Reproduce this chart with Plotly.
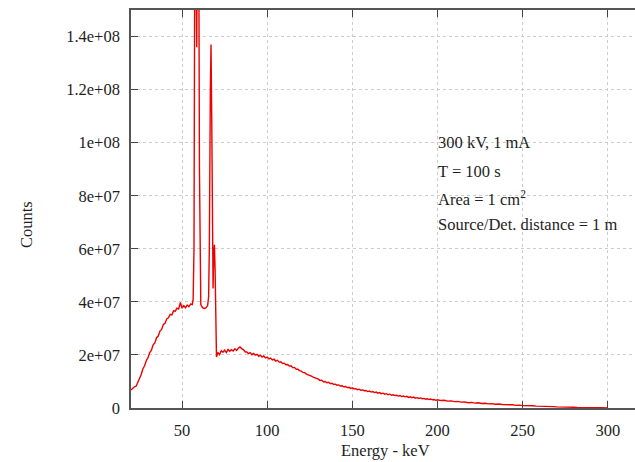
import plotly.graph_objects as go

# Energy (keV) and counts, in segments
energy_rise = [20, 21, 22, 23, 24, 25, 26, 27, 28, 29, 30, 31, 32, 33, 34, 35, 36, 37, 38, 39,
               40, 41, 42, 43, 44, 45, 46, 47, 48, 49, 50, 51, 52, 53, 54, 55, 56, 56.5]
counts_rise = [6.8e6, 7.5e6, 8.0e6, 8.2e6, 9.6e6, 11.2e6, 12.6e6, 14.8e6, 15.9e6, 17.9e6,
               19.0e6, 20.9e6, 21.8e6, 23.8e6, 24.5e6, 26.5e6, 27.1e6, 29.0e6, 29.6e6, 31.5e6,
               31.9e6, 33.6e6, 34.0e6, 35.3e6, 35.1e6, 36.6e6, 36.5e6, 37.6e6, 37.3e6, 39.8e6,
               37.6e6, 38.6e6, 37.8e6, 38.8e6, 38.2e6, 39.2e6, 39.0e6, 41.0e6]

energy_lines = [57.0, 57.4, 57.8, 58.2, 58.6, 59.0, 59.4, 59.8, 60.2, 60.6,
                61, 62, 63, 64, 65, 65.6, 66.0, 66.6, 67.0, 67.4, 67.8, 68.2, 68.6, 69.0, 69.4, 69.8, 70.2]
counts_lines = [60e6, 160e6, 200e6, 165e6, 136e6, 190e6, 260e6, 175e6, 90e6, 42e6,
                39.0e6, 37.8e6, 37.5e6, 37.7e6, 38.6e6, 42e6, 60e6, 120e6, 137e6, 110e6,
                55e6, 45e6, 58e6, 61.5e6, 52e6, 30e6, 19.2e6]

energy_mid = [71, 72, 73, 74, 75, 76, 77, 78, 79, 80, 81, 82, 83, 84, 85, 86, 87, 88, 89, 90,
              91, 92, 93, 94, 95, 96, 97, 98, 99, 100, 101, 102, 103, 104, 105, 106, 107, 108, 109, 110,
              111, 112, 113, 114, 115, 116, 117, 118, 119, 120, 121, 122, 123, 124, 125, 126, 127, 128, 129, 130]
counts_mid = [20.9e6, 20.1e6, 21.6e6, 21.0e6, 21.8e6, 20.9e6, 22.1e6, 21.4e6, 22.0e6, 21.5e6,
              22.3e6, 21.7e6, 22.5e6, 23.0e6, 22.4e6, 22.0e6, 21.2e6, 21.1e6, 20.5e6, 20.9e6,
              20.1e6, 20.6e6, 19.9e6, 20.2e6, 19.5e6, 19.9e6, 19.2e6, 19.6e6, 18.9e6, 19.2e6,
              18.5e6, 18.8e6, 18.1e6, 18.4e6, 17.7e6, 18.0e6, 17.3e6, 17.4e6, 16.8e6, 16.9e6,
              16.3e6, 16.4e6, 15.8e6, 15.9e6, 15.2e6, 15.3e6, 14.6e6, 14.6e6, 14.1e6, 13.9e6,
              13.4e6, 13.3e6, 12.8e6, 12.6e6, 12.2e6, 12.0e6, 11.6e6, 11.4e6, 11.0e6, 10.9e6]

energy_tail = [131, 132, 133, 134, 135, 136, 137, 138, 139, 140, 141, 142, 143, 144, 145, 146, 147, 148, 149, 150,
               151, 152, 153, 154, 155, 156, 157, 158, 159, 160, 161, 162, 163, 164, 165, 166, 167, 168, 169, 170,
               171, 172, 173, 174, 175, 176, 177, 178, 179, 180, 181, 182, 183, 184, 185, 186, 187, 188, 189, 190,
               191, 192, 193, 194, 195, 196, 197, 198, 199, 200]
counts_tail = [10.4e6, 10.5e6, 9.9e6, 10.0e6, 9.5e6, 9.7e6, 9.2e6, 9.3e6, 8.9e6, 9.0e6,
               8.6e6, 8.7e6, 8.3e6, 8.4e6, 8.0e6, 8.1e6, 7.7e6, 7.8e6, 7.4e6, 7.6e6,
               7.2e6, 7.3e6, 6.9e6, 7.1e6, 6.7e6, 6.8e6, 6.5e6, 6.6e6, 6.2e6, 6.4e6,
               6.0e6, 6.2e6, 5.8e6, 6.0e6, 5.6e6, 5.8e6, 5.4e6, 5.6e6, 5.2e6, 5.4e6,
               5.0e6, 5.2e6, 4.8e6, 5.0e6, 4.7e6, 4.8e6, 4.5e6, 4.7e6, 4.3e6, 4.5e6,
               4.2e6, 4.4e6, 4.0e6, 4.2e6, 3.9e6, 4.1e6, 3.7e6, 3.9e6, 3.6e6, 3.8e6,
               3.5e6, 3.6e6, 3.3e6, 3.5e6, 3.2e6, 3.4e6, 3.1e6, 3.2e6, 2.9e6, 3.1e6]

energy_end = [202, 204, 206, 208, 210, 212, 214, 216, 218, 220, 222, 224, 226, 228, 230, 232, 234, 236, 238, 240,
              242, 244, 246, 248, 250, 252, 254, 256, 258, 260, 262, 264, 266, 268, 270, 272, 274, 276, 278, 280,
              282, 284, 286, 288, 290, 292, 294, 296, 298, 300]
counts_end = [2.8e6, 2.9e6, 2.6e6, 2.7e6, 2.4e6, 2.5e6, 2.2e6, 2.3e6, 2.0e6, 2.1e6,
              1.85e6, 1.95e6, 1.7e6, 1.8e6, 1.55e6, 1.65e6, 1.4e6, 1.5e6, 1.3e6, 1.35e6,
              1.15e6, 1.2e6, 1.0e6, 1.1e6, 0.9e6, 0.95e6, 0.8e6, 0.85e6, 0.7e6, 0.72e6,
              0.6e6, 0.62e6, 0.5e6, 0.52e6, 0.42e6, 0.44e6, 0.35e6, 0.37e6, 0.28e6, 0.3e6,
              0.22e6, 0.24e6, 0.17e6, 0.18e6, 0.12e6, 0.13e6, 0.08e6, 0.08e6, 0.04e6, 0.02e6]

energy_kev = energy_rise + energy_lines + energy_mid + energy_tail + energy_end
counts = counts_rise + counts_lines + counts_mid + counts_tail + counts_end

x_tickvals = [50, 100, 150, 200, 250, 300]
y_tickvals = [0, 2e7, 4e7, 6e7, 8e7, 1e8, 1.2e8, 1.4e8]
y_ticktext = ["0", "2e+07", "4e+07", "6e+07", "8e+07", "1e+08", "1.2e+08", "1.4e+08"]

info_lines = ["300 kV, 1 mA", "T = 100 s", "Area = 1 cm<sup>2</sup>", "Source/Det. distance = 1 m"]

FONT = "Liberation Serif"
FS = 16.5
TXT = "#1e1e1e"
W, H = 635, 462
ML, MR, MT, MB = 131, 0, 10, 54
PH = H - MT - MB

fig = go.Figure()
fig.add_trace(go.Scatter(
    x=energy_kev, y=counts, mode="lines",
    line=dict(color="rgb(236,0,0)", width=1.4),
    showlegend=False, hoverinfo="skip",
))

axis_common = dict(
    showgrid=True, gridcolor="#cccccc", griddash="dot", gridwidth=1,
    showline=True, linecolor="#555555", linewidth=1.5,
    ticks="inside", ticklen=7, tickcolor="#444444", tickwidth=1,
    tickfont=dict(family=FONT, size=FS, color=TXT),
    zeroline=False,
)

fig.update_layout(
    width=W, height=H,
    margin=dict(l=ML, r=MR, t=MT, b=MB, pad=0),
    paper_bgcolor="white", plot_bgcolor="white",
    xaxis=dict(range=[20, 316], tickvals=x_tickvals, mirror="allticks",
               ticklabelstandoff=6, **axis_common),
    yaxis=dict(range=[0, 1.5e8], tickvals=y_tickvals, ticktext=y_ticktext,
               mirror=False, ticklabelstandoff=6, **axis_common),
    font=dict(family=FONT, size=FS, color=TXT),
)

annotations = []
annotations.append(dict(
    text="Energy - keV", xref="paper", yref="paper", x=(385 - ML) / (W - ML - MR), y=0,
    yshift=-(450 - 408), xanchor="center", yanchor="middle", showarrow=False,
    font=dict(family=FONT, size=FS, color=TXT),
))
annotations.append(dict(
    text="Counts", xref="paper", yref="paper", x=0, xshift=-(ML - 27),
    y=(408 - 225) / PH, xanchor="center", yanchor="middle", textangle=-90, showarrow=False,
    font=dict(family=FONT, size=FS, color=TXT),
))
line_y = [143, 171, 198, 225]
for txt, py in zip(info_lines, line_y):
    annotations.append(dict(
        text=txt, xref="x", yref="paper", x=199, y=(408 - py) / PH,
        xanchor="left", yanchor="middle", showarrow=False,
        font=dict(family=FONT, size=FS, color=TXT),
    ))
fig.update_layout(annotations=annotations)

fig.write_html("out.html")
